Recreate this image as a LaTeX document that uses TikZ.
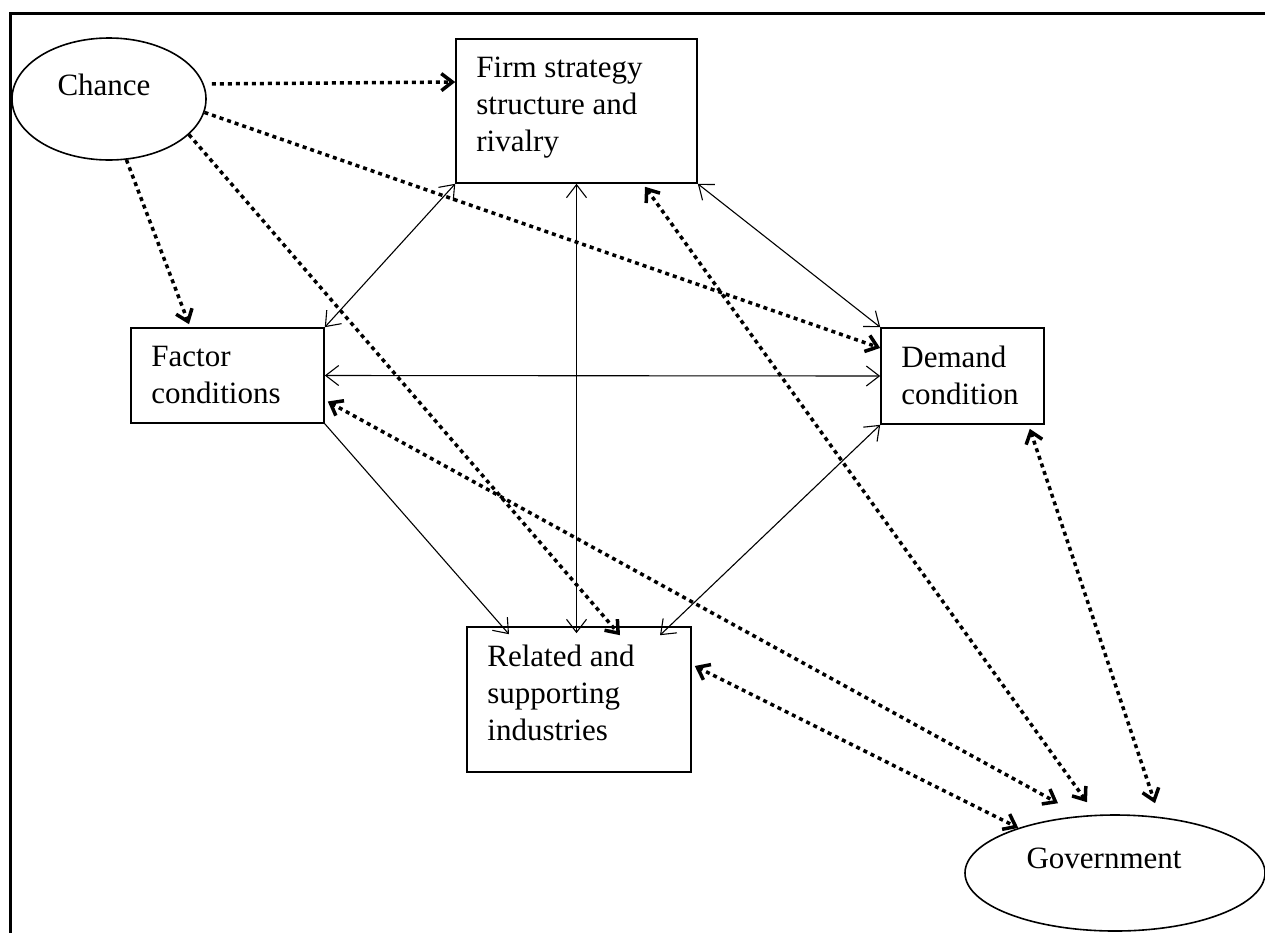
\documentclass[tikz,border=0pt]{standalone}
\usepackage{fontspec}
\setmainfont{Liberation Serif}
\usetikzlibrary{shapes.geometric,arrows.meta}

\tikzset{
  box/.style={draw, rectangle, line width=1.6pt, inner sep=0pt},
  oval/.style={draw, ellipse, line width=1.6pt, inner sep=0pt},
  txt/.style={align=left, inner sep=0pt, font=\fontsize{31}{37}\selectfont},
  link/.style={line width=1.1pt, >={Straight Barb[length=13pt,width=20pt]}},
  dots/.style={line width=3.5pt, dash pattern=on 4pt off 4pt, >={Straight Barb[length=11pt,width=17pt]}}
}

\begin{document}
\begin{tikzpicture}[x=1pt,y=1pt]
  \useasboundingbox (0,0) rectangle (1265,-932);
  \draw[line width=3pt] (10,-960) -- (10,-13) -- (1300,-13);

  % ovals and boxes
  \node[oval, minimum width=194, minimum height=122] (chance) at (109,-99) {};
  \node[oval, minimum width=300, minimum height=116] (gov) at (1115,-873) {};
  \foreach \name/\pos/\w/\h in {firm/{(576.5,-111)}/241/144, factor/{(227.5,-375.5)}/193/95,
                               demand/{(962.5,-376)}/163/96, related/{(579,-699.5)}/224/145}{
  \node[box, minimum width=\w, minimum height=\h] (\name) at \pos {}; }

  % texts
  \foreach \name/\text in {firm/{Firm strategy\\structure and\\rivalry}, factor/{Factor\\conditions},
                           demand/{Demand\\condition}, related/{Related and\\supporting\\industries}}{
  \node[txt, anchor=north west] (\name-t) at ([shift={(21,-19)}]\name.north west) {\text}; }
  \node[txt, anchor=base] (chance-t) at ([shift={(-5,4)}]chance.center) {Chance};
  \node[txt, anchor=base] (gov-t) at ([shift={(-11,5)}]gov.center) {Government};

  % solid links
  \draw[link,<->] (firm.south west) -- (factor.north east);
  \draw[link,<->] (firm.south) -- ([yshift=-7]firm.south |- related.north);
  \draw[link,<->] (firm.south east) -- (demand.north west);
  \draw[link,<->] (factor.east) -- (demand.west);
  \draw[link,->] (factor.south east) -- ([shift={(-70,-8)}]related.north);
  \draw[link,<->] (demand.south west) -- ([shift={(81,-9)}]related.north);

  % dotted links
  \draw[dots,->,shorten <=8pt] (chance.9) -- ([yshift=29]firm.west);
  \draw[dots,->] (chance.-74) -- ([shift={(-38.5,3)}]factor.north);
  \draw[dots,->] (chance.-8) -- ([yshift=28]demand.west);
  \draw[dots,->] (chance.-24) -- ([shift={(41,-9)}]related.north);
  \draw[dots,<->] ([shift={(68.5,-3)}]firm.south) -- ([shift={(-28,12)}]gov.north);
  \draw[dots,<->] ([shift={(3,-26)}]factor.east) -- ([shift={(-57,11)}]gov.north);
  \draw[dots,<->] ([shift={(3,33.5)}]related.east) -- (gov.155);
  \draw[dots,<->] ([shift={(-15,-4)}]demand.south east) -- ([shift={(40,11)}]gov.north);
\end{tikzpicture}
\end{document}
